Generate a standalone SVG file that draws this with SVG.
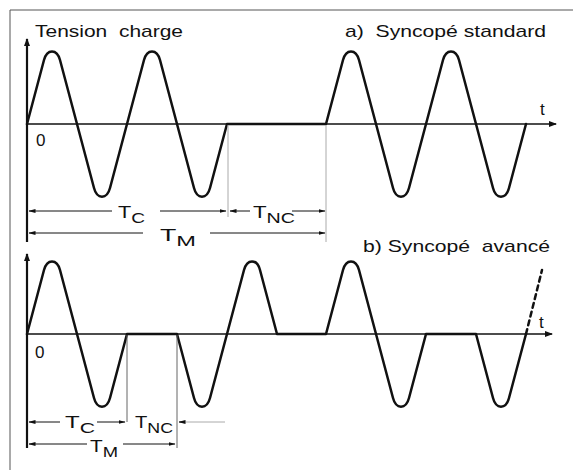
<svg xmlns="http://www.w3.org/2000/svg" width="573" height="470" viewBox="0 0 573 470">
<style>
text{font-family:"Liberation Sans",Arial,sans-serif;font-size:17px;fill:#111;white-space:pre}
.sub{font-size:15px}
.wave{fill:none;stroke:#111;stroke-width:2.5;stroke-linejoin:round;stroke-linecap:round}
.axis{fill:none;stroke:#111;stroke-width:1.6}
.vax{fill:none;stroke:#111;stroke-width:2.2}
.dim{fill:none;stroke:#111;stroke-width:1}
.guide{fill:none;stroke:#aaa;stroke-width:1}
.guide2{fill:none;stroke:#666;stroke-width:1}
.frame{fill:none;stroke:#555;stroke-width:1}
</style>
<defs>
<marker id="ax" markerUnits="userSpaceOnUse" markerWidth="8" markerHeight="6" refX="7" refY="3" orient="auto"><path d="M0,0 L8,3 L0,6 z" fill="#111"/></marker>
<marker id="da" markerUnits="userSpaceOnUse" markerWidth="7" markerHeight="5" refX="6.5" refY="2.5" orient="auto-start-reverse"><path d="M0,0.5 L7,2.5 L0,4.5 z" fill="#111"/></marker>
</defs>
<g id="frame">
<path class="frame" d="M10,10 H573 M10,10 V470"/>
</g>
<g id="chart-a">
<path class="vax" d="M27,242 V39" marker-end="url(#ax)"/>
<path class="axis" d="M27,124 H556" marker-end="url(#ax)"/>
<path class="wave" d="M27,124 l17,-64 c3,-11.5 13,-11.5 16,0 l17,64 l17,64 c3,11.5 13,11.5 16,0 l17,-64 l17,-64 c3,-11.5 13,-11.5 16,0 l17,64 l17,64 c3,11.5 13,11.5 16,0 l17,-64 H326 l17,-64 c3,-11.5 13,-11.5 16,0 l17,64 l17,64 c3,11.5 13,11.5 16,0 l17,-64 l17,-64 c3,-11.5 13,-11.5 16,0 l17,64 l17,64 c3,11.5 13,11.5 16,0 l17,-64"/>
<text x="35" y="37" textLength="148" lengthAdjust="spacingAndGlyphs">Tension  charge</text>
<text x="345" y="37" textLength="201" lengthAdjust="spacingAndGlyphs">a)  Syncopé standard</text>
<text x="36" y="146">0</text>
<text x="540" y="115">t</text>
</g>
<g id="dims-a">
<path class="guide" d="M228,125 V217 M326,125 V242"/>
<path class="dim" d="M112,211 H29" marker-end="url(#da)"/>
<path class="dim" d="M160,211 H226" marker-end="url(#da)"/>
<path class="dim" d="M250,211 H230" marker-end="url(#da)"/>
<path class="dim" d="M292,211 H325" marker-end="url(#da)"/>
<path class="dim" d="M143,233 H29" marker-end="url(#da)"/>
<path class="dim" d="M210,233 H325" marker-end="url(#da)"/>
<text x="118" y="218" textLength="27" lengthAdjust="spacingAndGlyphs">T<tspan class="sub" dy="5">C</tspan></text>
<text x="253" y="218" textLength="42" lengthAdjust="spacingAndGlyphs">T<tspan class="sub" dy="5">NC</tspan></text>
<text x="160" y="241" textLength="36" lengthAdjust="spacingAndGlyphs">T<tspan class="sub" dy="5">M</tspan></text>
</g>
<g id="chart-b">
<path class="vax" d="M27,448 V254" marker-end="url(#ax)"/>
<path class="axis" d="M27,334 H552" marker-end="url(#ax)"/>
<path class="wave" d="M27,334 l17,-64 c3,-11.5 13,-11.5 16,0 l17,64 l17,64 c3,11.5 13,11.5 16,0 l17,-64 H177 l17,64 c3,11.5 13,11.5 16,0 l17,-64 l17,-64 c3,-11.5 13,-11.5 16,0 l17,64 H326 l17,-64 c3,-11.5 13,-11.5 16,0 l17,64 l17,64 c3,11.5 13,11.5 16,0 l17,-64 H476 l17,64 c3,11.5 13,11.5 16,0 l17,-64"/>
<path class="wave" d="M526,334 L542,270" stroke-dasharray="5,4" stroke-linecap="butt"/>
<text x="363" y="252" textLength="187" lengthAdjust="spacingAndGlyphs">b) Syncopé  avancé</text>
<text x="35" y="358">0</text>
<text x="539" y="328">t</text>
</g>
<g id="dims-b">
<path class="guide2" d="M127,335 V422 M177,335 V448"/>
<path class="dim" d="M60,422 H29" marker-end="url(#da)"/>
<path class="dim" d="M97,422 H125" marker-end="url(#da)"/>
<path class="guide" d="M225,422 H180"/>
<path class="dim" d="M184,422 H179" marker-end="url(#da)"/>
<path class="dim" d="M87,444 H29" marker-end="url(#da)"/>
<path class="dim" d="M123,444 H175" marker-end="url(#da)"/>
<text x="65" y="428" textLength="30" lengthAdjust="spacingAndGlyphs">T<tspan class="sub" dy="5">C</tspan></text>
<text x="135" y="428" textLength="38" lengthAdjust="spacingAndGlyphs">T<tspan class="sub" dy="5">NC</tspan></text>
<text x="90" y="452" textLength="28" lengthAdjust="spacingAndGlyphs">T<tspan class="sub" dy="5">M</tspan></text>
</g>
</svg>
